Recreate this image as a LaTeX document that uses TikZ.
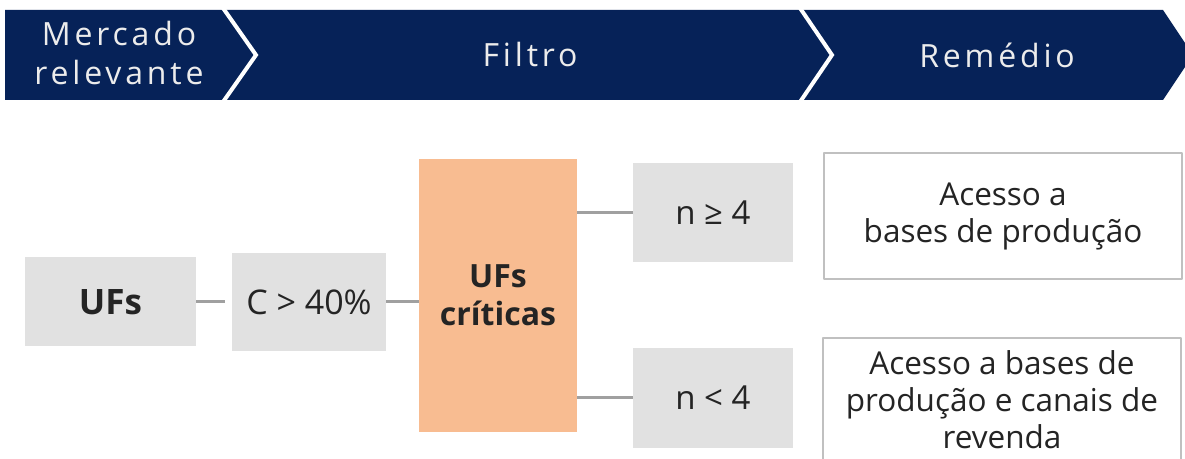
\documentclass[tikz,border=0pt]{standalone}
\usepackage{fontspec}
\setmainfont{Open Sans}
\usepackage{tikz}
\usetikzlibrary{arrows}

\definecolor{navy}{RGB}{6,34,88}
\definecolor{boxgray}{RGB}{225,225,225}
\definecolor{peach}{RGB}{248,188,145}
\definecolor{linegray}{RGB}{160,160,160}
\definecolor{framegray}{RGB}{192,192,192}
\definecolor{txtgray}{RGB}{36,36,36}
\definecolor{hdtext}{RGB}{236,236,236}

\begin{document}
\begin{tikzpicture}[>=latex',line join=bevel,
  hdlabel/.style={text=hdtext,align=center,inner sep=0pt,
    font=\fontsize{32bp}{39bp}\selectfont\addfontfeatures{LetterSpace=12}},
  graybox/.style={fill=boxgray,inner sep=0pt,text=txtgray,align=center},
  critbox/.style={fill=peach,inner sep=0pt,text=txtgray,align=center,
    font=\fontsize{32bp}{38bp}\selectfont\bfseries},
  remedybox/.style={draw=framegray,line width=2bp,fill=white,inner sep=0pt,
    text=txtgray,align=center,minimum width=358bp,
    font=\fontsize{31.5bp}{37bp}\selectfont},
  link/.style={draw=linegray,line width=3bp},
  sep/.style={draw=white,line width=4bp,line join=miter},
]
\pgfsetlinewidth{0.7bp}
\useasboundingbox (0bp,0bp) rectangle (1185bp,459bp);
%% header band
\fill [navy] (5bp,449bp) -- (1163bp,449bp) -- (1193bp,404bp) -- (1163bp,359bp) -- (5bp,359bp) -- cycle;
\draw [sep] (223bp,451bp) -- (256bp,404bp) -- (223bp,357bp);
\draw [sep] (800bp,451bp) -- (832bp,404bp) -- (800bp,357bp);
\node (hdmerc) at (119bp,406bp) [hdlabel] {Mercado\\relevante};
\node (hdfilt) at (530bp,404bp) [hdlabel] {Filtro};
\node (hdrem) at (997bp,404bp) [hdlabel] {Remédio};
%%
\node (ufs) at (110.5bp,157bp) [graybox,minimum width=171bp,minimum height=89bp,
  font=\fontsize{35bp}{40bp}\selectfont\bfseries] {UFs};
\node (cond) at (309bp,157bp) [graybox,minimum width=154bp,minimum height=98bp,
  font=\fontsize{34bp}{38bp}\selectfont] {C > 40\%};
\node (crit) at (498bp,163.5bp) [critbox,minimum width=158bp,minimum height=273bp] {UFs\\críticas};
%
\node (nge) at (713bp,246.5bp) [graybox,minimum width=160bp,minimum height=99bp,
  font=\fontsize{33bp}{36bp}\selectfont] {n ≥ 4};
\node (nlt) at (713bp,61bp) [graybox,minimum width=160bp,minimum height=100bp,
  font=\fontsize{33bp}{36bp}\selectfont] {n < 4};
%
\node (accone) at (1003bp,243bp) [remedybox,minimum height=126bp] {Acesso a\\bases de produção};
\node (acctwo) at (1002bp,59bp) [remedybox,minimum height=124bp] {Acesso a bases de\\produção e canais de\\revenda};
%%
\draw [link] (ufs.east) -- ([xshift=-7bp]cond.west);
\draw [link] (cond.east) -- (cond.east -| crit.west);
\draw [link] (nge.west -| crit.east) -- (nge.west);
\draw [link] (nlt.west -| crit.east) -- (nlt.west);
%
\end{tikzpicture}
\end{document}
